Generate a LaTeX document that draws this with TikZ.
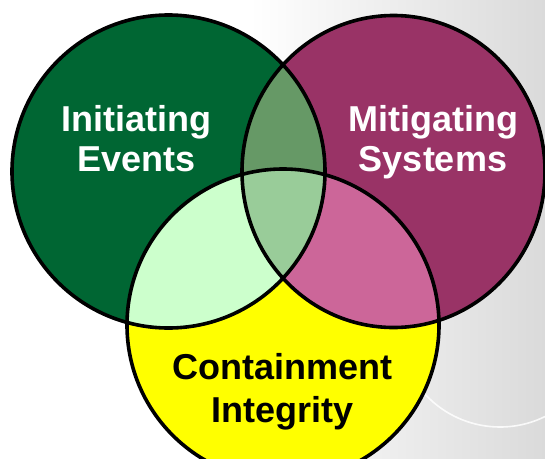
\documentclass[tikz,border=0pt]{standalone}
\usepackage{fontspec}
\setmainfont{Liberation Sans}
\definecolor{cIE}{HTML}{006633}
\definecolor{cMS}{HTML}{993366}
\definecolor{cCI}{HTML}{FFFF00}
\definecolor{cLR}{HTML}{669966}
\definecolor{cLB}{HTML}{CCFFCC}
\definecolor{cRB}{HTML}{CC6699}
\definecolor{cAll}{HTML}{99CC99}
\definecolor{bgGray}{HTML}{DADADA}
\tikzset{
  outline/.style={draw=black, line width=3.6pt},
  lbl/.style={font=\fontsize{36}{40}\selectfont\bfseries, inner sep=0pt, anchor=base},
}
\begin{document}
\begin{tikzpicture}[x=1pt,y=-1pt]
\useasboundingbox (0,0) rectangle (545,458);
\clip (0,0) rectangle (545,458);
% background
\fill[white] (0,0) rectangle (545,458);
\shade[left color=white, right color=bgGray] (250,0) rectangle (545,458);
\coordinate (gc) at (500,325);
\draw[white, line width=1.6pt, opacity=0.85] (gc) ++(142:102) arc[start angle=142, end angle=55, radius=102];
% centres
\coordinate (cl) at (168.5,171.5);
\coordinate (cr) at (393.5,171.5);
\coordinate (cb) at (283,325);
% base fills
\fill[cIE] (cl) circle[radius=156.5];
\fill[cMS] (cr) ellipse[x radius=151.5, y radius=156];
\fill[cCI] (cb) circle[radius=156];
% pairwise overlaps
\begin{scope}
  \clip (cl) circle[radius=156.5];
  \fill[cLR] (cr) ellipse[x radius=151.5, y radius=156];
  \fill[cLB] (cb) circle[radius=156];
\end{scope}
\begin{scope}
  \clip (cr) ellipse[x radius=151.5, y radius=156];
  \fill[cRB] (cb) circle[radius=156];
\end{scope}
\begin{scope}
  \clip (cl) circle[radius=156.5];
  \clip (cr) ellipse[x radius=151.5, y radius=156];
  \fill[cAll] (cb) circle[radius=156];
\end{scope}
% outlines
\draw[outline] (cl) circle[radius=156.5];
\draw[outline] (cr) ellipse[x radius=151.5, y radius=156];
\draw[outline] (cb) circle[radius=156];
% labels
\node[lbl, text=white] (ie1) at (136.5,131) {Initiating};
\node[lbl, text=white] (ie2) at (136.5,171) {Events};
\node[lbl, text=white] (ms1) at (433,131) {Mitigating};
\node[lbl, text=white] (ms2) at (433,171) {Systems};
\node[lbl, text=black] (ci1) at (282.5,379) {Containment};
\node[lbl, text=black] (ci2) at (282.5,422) {Integrity};
\end{tikzpicture}
\end{document}
